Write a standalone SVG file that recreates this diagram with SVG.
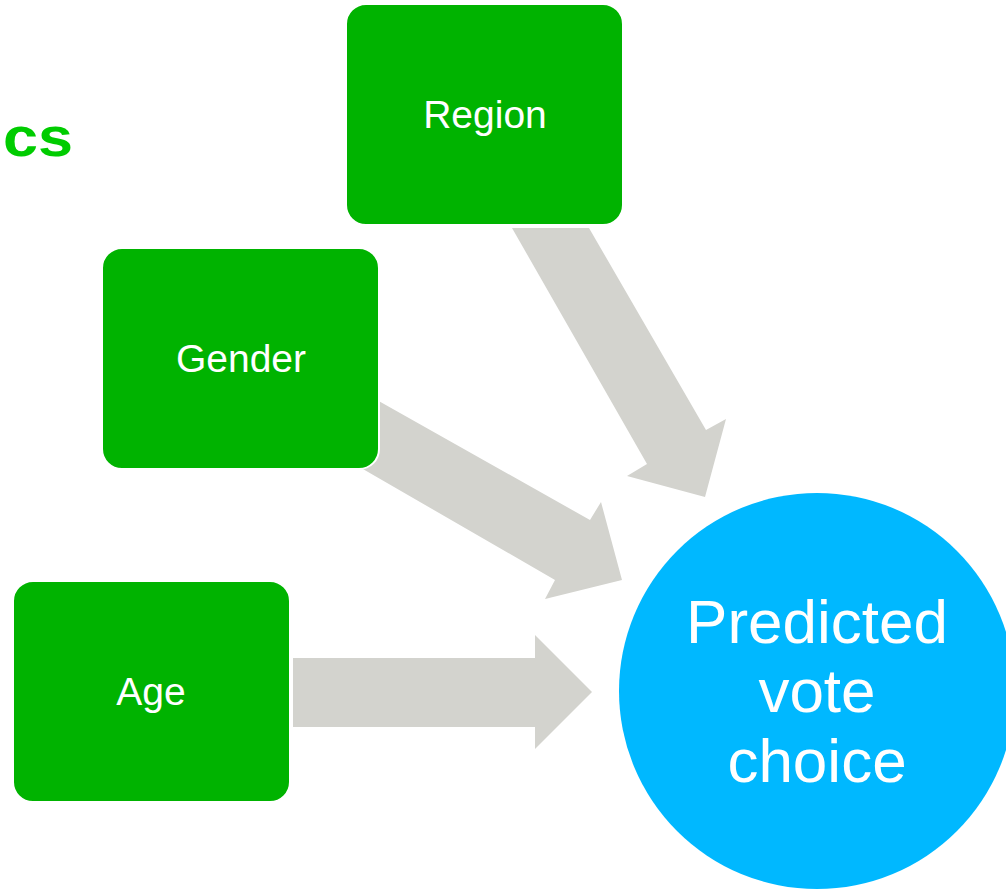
<svg xmlns="http://www.w3.org/2000/svg" width="1006" height="890" viewBox="0 0 1006 890">
  <style>
    .box { fill: #00B300; stroke: #ffffff; stroke-width: 2; }
    .arrow { fill: #D3D3CE; }
    .lbl { font-family: "Liberation Sans", Arial, sans-serif; font-size: 39px; fill: #ffffff; text-anchor: middle; }
    .big { font-family: "Liberation Sans", Arial, sans-serif; font-size: 62px; fill: #ffffff; text-anchor: middle; }
    .title { font-family: "Liberation Sans", Arial, sans-serif; font-size: 56px; font-weight: bold; fill: #00CC00; }
  </style>
  <rect width="1006" height="890" fill="#ffffff"/>
  <text class="title" x="3" y="156" textLength="70" lengthAdjust="spacingAndGlyphs">cs</text>
  <g id="connectors">
    <polygon class="arrow" points="512,228 589,228 706,430 726,419 705,497 627,476 647,464"/>
    <polygon class="arrow" points="345,382 590,520 601,502 622,580 545,599 555,580 330,450"/>
    <polygon class="arrow" points="293,658 535,658 535,635 592,692 535,749 535,727 293,727"/>
  </g>
  <g id="region">
    <rect class="box" x="346" y="4" width="277" height="221" rx="20" ry="20"/>
    <text class="lbl" x="485" y="128">Region</text>
  </g>
  <g id="gender">
    <rect class="box" x="102" y="248" width="277" height="221" rx="20" ry="20"/>
    <text class="lbl" x="241" y="372">Gender</text>
  </g>
  <g id="age">
    <rect class="box" x="13" y="581" width="277" height="221" rx="20" ry="20"/>
    <text class="lbl" x="151" y="705">Age</text>
  </g>
  <g id="predicted">
    <circle cx="817" cy="691" r="198" fill="#00B8FF"/>
    <text class="big" x="817" y="643">Predicted</text>
    <text class="big" x="817" y="712">vote</text>
    <text class="big" x="817" y="782">choice</text>
  </g>
</svg>
